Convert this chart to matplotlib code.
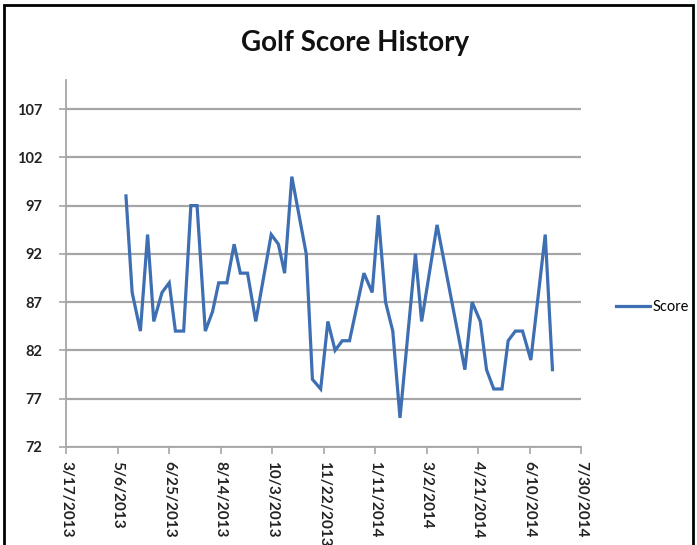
import datetime as dt

import matplotlib
matplotlib.use("Agg")
import matplotlib.pyplot as plt
from matplotlib.patches import Rectangle

# 读图估计的成绩记录
play_dates = ["2013-05-14", "2013-05-20", "2013-05-28", "2013-06-04", "2013-06-10",
              "2013-06-18", "2013-06-25", "2013-07-01", "2013-07-09", "2013-07-16",
              "2013-07-22", "2013-07-30", "2013-08-06", "2013-08-12", "2013-08-20",
              "2013-08-27", "2013-09-02", "2013-09-09", "2013-09-17", "2013-10-02",
              "2013-10-09", "2013-10-15", "2013-10-22", "2013-11-05", "2013-11-11",
              "2013-11-19", "2013-11-26", "2013-12-03", "2013-12-10", "2013-12-17",
              "2013-12-25", "2013-12-31", "2014-01-08", "2014-01-14", "2014-01-21",
              "2014-01-28", "2014-02-04", "2014-02-19", "2014-02-25", "2014-03-12",
              "2014-04-08", "2014-04-15", "2014-04-23", "2014-04-29", "2014-05-06",
              "2014-05-14", "2014-05-20", "2014-05-27", "2014-06-03", "2014-06-11",
              "2014-06-25", "2014-07-02"]
scores = [98, 88, 84, 94, 85, 88, 89, 84, 84, 97,
          97, 84, 86, 89, 89, 93, 90, 90, 85, 94,
          93, 90, 100, 92, 79, 78, 85, 82, 83, 83,
          87, 90, 88, 96, 87, 84, 75, 92, 85, 95,
          80, 87, 85, 80, 78, 78, 83, 84, 84, 81,
          94, 80]

x_start = "2013-03-17"
x_end = "2014-07-30"
x_step_days = 50
y_ticks = [72, 77, 82, 87, 92, 97, 102, 107]

title = "Golf Score History"
series_name = "Score"

line_color = "#3d6fb2"
grid_color = "#a6a6a6"

plt.rcParams['font.family'] = ['Lato', 'DejaVu Sans']

dates = [dt.datetime.strptime(d, "%Y-%m-%d") for d in play_dates]
d0 = dt.datetime.strptime(x_start, "%Y-%m-%d")
d1 = dt.datetime.strptime(x_end, "%Y-%m-%d")
x_ticks = []
d = d0
while d <= d1:
    x_ticks.append(d)
    d += dt.timedelta(days=x_step_days)

fig = plt.figure(figsize=(6.97, 5.45), dpi=100)
ax = fig.add_axes([0.095, 0.18, 0.739, 0.673])

ax.plot(dates, scores, color=line_color, lw=2.3, label=series_name,
        solid_joinstyle="miter")

ax.set_xlim(d0, d1)
ax.set_ylim(72, 110)
ax.set_yticks(y_ticks)
ax.set_xticks(x_ticks)
ax.set_xticklabels([f"{t.month}/{t.day}/{t.year}" for t in x_ticks],
                   rotation=-90, fontsize=11, color="#222222", weight="bold")
ax.set_yticklabels([str(v) for v in y_ticks], fontsize=10.5, color="#222222", weight="bold")

ax.yaxis.grid(True, color=grid_color, lw=1.6)
ax.set_axisbelow(True)
for s in ("top", "right"):
    ax.spines[s].set_visible(False)
for s in ("left", "bottom"):
    ax.spines[s].set_color(grid_color)
    ax.spines[s].set_linewidth(1.3)
ax.tick_params(axis="both", colors=grid_color, length=5, width=1.2)
ax.tick_params(axis="y", pad=12)
ax.tick_params(axis="x", pad=5)
ax.tick_params(axis="both", labelcolor="#222222")

fig.text(0.51, 0.922, title, ha="center", va="center", fontsize=20, weight="bold",
         color="#111111")

ax.legend(loc="center left", bbox_to_anchor=(0.865, 0.437),
          bbox_transform=fig.transFigure, frameon=False, fontsize=10.5,
          handlelength=2.3, handletextpad=0.2)

# 外边框
fig.patches.append(Rectangle((0.006, -0.02), 0.988, 1.011, transform=fig.transFigure,
                             fill=False, edgecolor="black", lw=2))

fig.savefig("out.png", dpi=100)
